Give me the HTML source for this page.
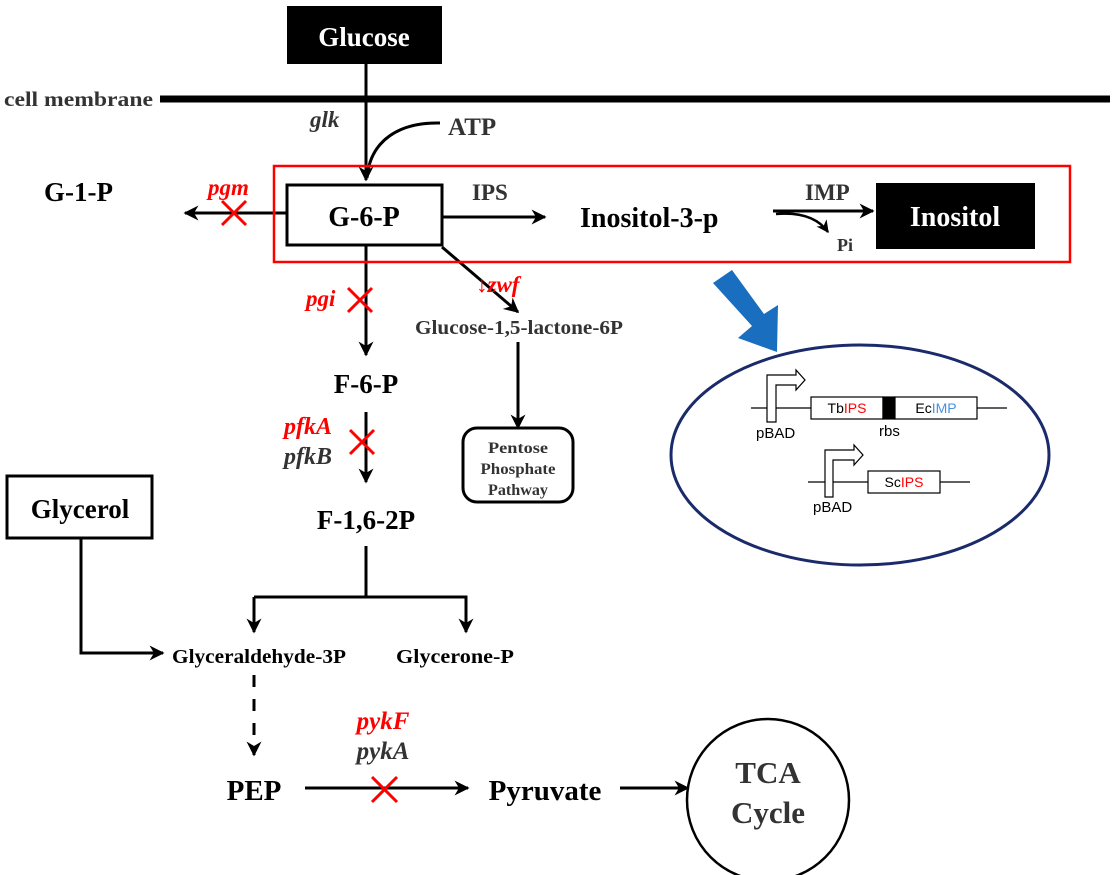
<!DOCTYPE html>
<html><head><meta charset="utf-8"><style>
html,body{margin:0;padding:0;background:#fff}
svg{display:block}
text{font-family:"Liberation Serif",serif;font-weight:bold}
.s{font-family:"Liberation Sans",sans-serif;font-weight:normal}
</style></head><body>
<svg width="1116" height="875" viewBox="0 0 1116 875" xmlns="http://www.w3.org/2000/svg">
<defs>
<marker id="a" viewBox="0 0 10 10" refX="9" refY="5" markerWidth="5" markerHeight="5" orient="auto"><path d="M0,0 L10,5 L0,10 L3,5 z" fill="#000"/></marker>
</defs>
<g stroke="#000" stroke-width="3" fill="none">
<line x1="160" y1="99" x2="1110" y2="99" stroke-width="7"/>
<line x1="366" y1="64" x2="366" y2="180" marker-end="url(#a)"/>
<path d="M440,123 C400,122 370,140 367,178"/>
<line x1="442" y1="217" x2="545" y2="217" marker-end="url(#a)"/>
<line x1="773" y1="211" x2="873" y2="211" marker-end="url(#a)"/>
<path d="M776,214 C800,212 818,218 828,232" marker-end="url(#a)" stroke-width="2.5"/>
<line x1="287" y1="213" x2="185" y2="213" marker-end="url(#a)"/>
<line x1="366" y1="245" x2="366" y2="355" marker-end="url(#a)"/>
<line x1="442" y1="247" x2="518" y2="312" marker-end="url(#a)"/>
<line x1="518" y1="342" x2="518" y2="428" marker-end="url(#a)"/>
<line x1="366" y1="412" x2="366" y2="482" marker-end="url(#a)"/>
<polyline points="366,546 366,597"/>
<polyline points="254,597 466,597 466,632" marker-end="url(#a)"/>
<line x1="254" y1="597" x2="254" y2="632" marker-end="url(#a)"/>
<polyline points="81,538 81,653 163,653" marker-end="url(#a)"/>
<line x1="254" y1="675" x2="254" y2="755" stroke-dasharray="12,12" marker-end="url(#a)"/>
<line x1="305" y1="788" x2="468" y2="788" marker-end="url(#a)"/>
<line x1="620" y1="788" x2="688" y2="788" marker-end="url(#a)"/>
<rect x="287" y="185" width="155" height="60" fill="#fff"/>
<rect x="7" y="476" width="145" height="62"/>
<rect x="463" y="428" width="110" height="74" rx="14"/>
<circle cx="768" cy="800" r="81" stroke-width="2.5"/>
</g>
<rect x="274" y="166" width="796" height="96" fill="none" stroke="#f00" stroke-width="2.5"/>
<rect x="287" y="6" width="155" height="58" fill="#000"/>
<rect x="876" y="183" width="159" height="66" fill="#000"/>
<g stroke="#f00" stroke-width="3">
<line x1="222" y1="201" x2="246" y2="225"/><line x1="246" y1="201" x2="222" y2="225"/>
<line x1="348" y1="288" x2="372" y2="312"/><line x1="372" y1="288" x2="348" y2="312"/>
<line x1="350" y1="430" x2="374" y2="454"/><line x1="374" y1="430" x2="350" y2="454"/>
<line x1="372" y1="777" x2="397" y2="802"/><line x1="397" y1="777" x2="372" y2="802"/>
</g>
<text x="364" y="46" font-size="27" fill="#fff" text-anchor="middle">Glucose</text>
<text x="4" y="106" font-size="21" fill="#333" textLength="149" lengthAdjust="spacingAndGlyphs">cell membrane</text>
<text x="310" y="127" font-size="23" font-style="italic" fill="#333">glk</text>
<text x="448" y="135" font-size="25" fill="#333">ATP</text>
<text x="364" y="226" font-size="28" text-anchor="middle">G-6-P</text>
<text x="472" y="200" font-size="23" fill="#333">IPS</text>
<text x="580" y="227" font-size="28">Inositol-3-p</text>
<text x="805" y="200" font-size="23" fill="#333">IMP</text>
<text x="837" y="251" font-size="18" fill="#333">Pi</text>
<text x="955" y="226" font-size="28" fill="#fff" text-anchor="middle">Inositol</text>
<text x="44" y="201" font-size="27">G-1-P</text>
<text x="208" y="195" font-size="23" font-style="italic" fill="#f00">pgm</text>
<text x="306" y="306" font-size="23" font-style="italic" fill="#f00">pgi</text>
<text x="476" y="292" font-size="23" font-style="italic" fill="#f00">↓zwf</text>
<text x="519" y="334" font-size="20" text-anchor="middle" fill="#333" textLength="208" lengthAdjust="spacingAndGlyphs">Glucose-1,5-lactone-6P</text>
<text x="518" y="453" font-size="16" text-anchor="middle" fill="#333" textLength="60" lengthAdjust="spacingAndGlyphs">Pentose</text>
<text x="518" y="474" font-size="16" text-anchor="middle" fill="#333" textLength="75" lengthAdjust="spacingAndGlyphs">Phosphate</text>
<text x="518" y="495" font-size="16" text-anchor="middle" fill="#333" textLength="60" lengthAdjust="spacingAndGlyphs">Pathway</text>
<text x="366" y="393" font-size="27" text-anchor="middle">F-6-P</text>
<text x="284" y="434" font-size="24" font-style="italic" fill="#f00">pfkA</text>
<text x="284" y="464" font-size="24" font-style="italic" fill="#333">pfkB</text>
<text x="366" y="529" font-size="27" text-anchor="middle">F-1,6-2P</text>
<text x="80" y="518" font-size="27" text-anchor="middle">Glycerol</text>
<text x="259" y="663" font-size="20" text-anchor="middle" textLength="174" lengthAdjust="spacingAndGlyphs">Glyceraldehyde-3P</text>
<text x="455" y="663" font-size="20" text-anchor="middle" textLength="118" lengthAdjust="spacingAndGlyphs">Glycerone-P</text>
<text x="254" y="800" font-size="29" text-anchor="middle">PEP</text>
<text x="383" y="729" font-size="25" font-style="italic" fill="#f00" text-anchor="middle">pykF</text>
<text x="383" y="759" font-size="25" font-style="italic" fill="#333" text-anchor="middle">pykA</text>
<text x="545" y="800" font-size="29" text-anchor="middle">Pyruvate</text>
<text x="768" y="783" font-size="31" text-anchor="middle" fill="#333">TCA</text>
<text x="768" y="823" font-size="31" text-anchor="middle" fill="#333">Cycle</text>
<polygon points="713,283 732,270 764,314 778,305 777,352 738,338 752,326" fill="#1a6ec0"/>
<ellipse cx="860" cy="455" rx="189" ry="110" fill="none" stroke="#1b2a6b" stroke-width="3"/>
<g stroke="#000" stroke-width="1.2" fill="#fff">
<line x1="751" y1="408" x2="1007" y2="408"/>
<path d="M767,422 V375 H796 V370 L805,380 L796,390 V385 H776 V422 z"/>
<rect x="811" y="397" width="72" height="22"/>
<rect x="883" y="397" width="12" height="22" fill="#000"/>
<rect x="895" y="397" width="82" height="22"/>
<line x1="808" y1="482" x2="970" y2="482"/>
<path d="M825,497 V450 H854 V445 L863,455 L854,465 V460 H833 V497 z"/>
<rect x="868" y="471" width="72" height="22"/>
</g>
<g font-size="14">
<text x="756" y="438" class="s" font-size="15">pBAD</text>
<text x="879" y="436" class="s" font-size="15">rbs</text>
<text x="813" y="512" class="s" font-size="15">pBAD</text>
<text x="847" y="413" class="s" text-anchor="middle">Tb<tspan fill="#f00">IPS</tspan></text>
<text x="936" y="413" class="s" text-anchor="middle">Ec<tspan fill="#4a90d9">IMP</tspan></text>
<text x="904" y="487" class="s" text-anchor="middle">Sc<tspan fill="#f00">IPS</tspan></text>
</g>
</svg>
</body></html>
